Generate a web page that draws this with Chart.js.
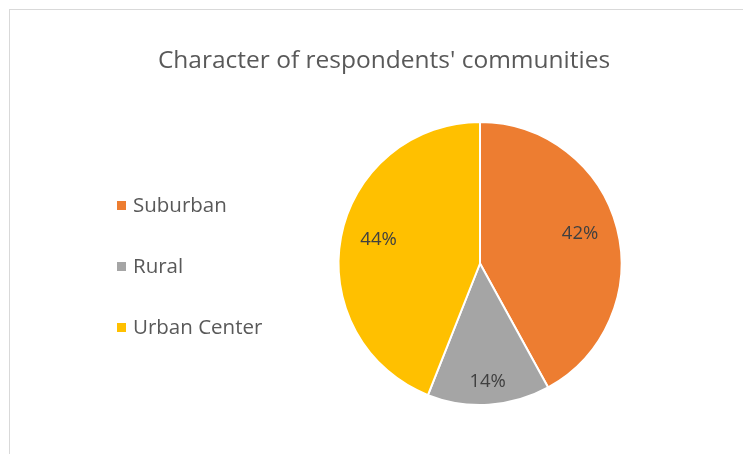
<!DOCTYPE html>
<html>
<head>
<meta charset="utf-8">
<script src="https://cdn.jsdelivr.net/npm/chart.js@4.4.1/dist/chart.umd.min.js"></script>
<style>
  html, body { margin: 0; padding: 0; background: #fff; overflow: hidden; }
  #wrap { position: relative; width: 743px; height: 454px; }
  #frame {
    position: absolute; left: 9px; top: 9px; width: 800px; height: 500px;
    border: 1.5px solid #d9d9d9; box-sizing: border-box;
  }
  #chart { position: absolute; left: 0; top: 0; }
</style>
</head>
<body>
<div id="wrap">
  <div id="frame"></div>
  <canvas id="chart" width="743" height="454"></canvas>
</div>
<script>
const title = "Character of respondents' communities";
const categories = ["Suburban", "Rural", "Urban Center"];
const shares = [42, 14, 44];
const colors = ["#ED7D31", "#A5A5A5", "#FFC000"];

const FONT = "'Open Sans', sans-serif";

// title, left-hand legend and percent labels are drawn by hand
const decorations = {
  id: "decorations",
  afterDatasetsDraw(chart) {
    const ctx = chart.ctx;
    ctx.save();

    ctx.fillStyle = "#595959";
    ctx.font = "24.5px " + FONT;
    ctx.textAlign = "center";
    ctx.textBaseline = "middle";
    ctx.fillText(title, 384, 61);

    ctx.font = "20.5px " + FONT;
    ctx.textAlign = "left";
    const rows = [205, 266, 327];
    chart.data.labels.forEach((label, i) => {
      ctx.fillStyle = chart.data.datasets[0].backgroundColor[i];
      ctx.fillRect(117, rows[i] - 4, 9, 9);
      ctx.fillStyle = "#595959";
      ctx.fillText(label, 133, rows[i] + 1);
    });

    ctx.font = "18.5px " + FONT;
    ctx.textAlign = "center";
    ctx.fillStyle = "#404040";
    const meta = chart.getDatasetMeta(0);
    meta.data.forEach((arc, i) => {
      const p = arc.getProps(["x", "y", "startAngle", "endAngle", "outerRadius"], true);
      const mid = (p.startAngle + p.endAngle) / 2;
      const r = p.outerRadius * (i === 1 ? 0.865 : 0.73);
      ctx.fillText(shares[i] + "%", p.x + Math.cos(mid) * r, p.y + Math.sin(mid) * r - 4);
    });
    ctx.restore();
  }
};

new Chart(document.getElementById("chart"), {
  type: "pie",
  data: {
    labels: categories,
    datasets: [{
      data: shares,
      backgroundColor: colors,
      borderColor: "#ffffff",
      borderWidth: 2
    }]
  },
  options: {
    responsive: false,
    animation: false,
    layout: { padding: { left: 337, right: 120, top: 121, bottom: 48 } },
    plugins: {
      legend: { display: false },
      title: { display: false },
      tooltip: { enabled: false }
    }
  },
  plugins: [decorations]
});
</script>
</body>
</html>
